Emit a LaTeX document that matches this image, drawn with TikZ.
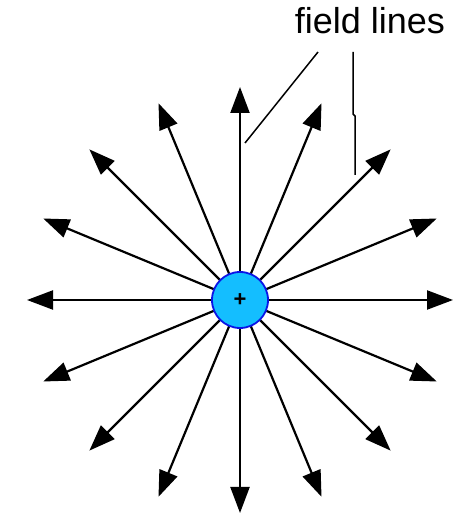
\documentclass[tikz,border=0pt]{standalone}
\usepackage{fontspec}
\setmainfont{Liberation Sans}
\usetikzlibrary{arrows.meta,calc}
\definecolor{chargefill}{RGB}{20,190,255}
\definecolor{chargeedge}{RGB}{10,20,230}
\tikzset{
  fieldline/.style={line width=2.2pt, draw=black, -{Triangle[length=26pt,width=19pt]}},
  pointer/.style={line width=1.5pt, draw=black},
  charge/.style={circle, fill=chargefill, draw=chargeedge, line width=1.8pt, minimum size=56pt, inner sep=0pt}
}
\begin{document}
\begin{tikzpicture}[x=1pt,y=1pt]
\useasboundingbox (0,0) rectangle (457,518);
\coordinate (o) at (240,218);
\foreach \i in {0,...,15}{
  \coordinate (t\i) at ($(o)+({\i*22.5}:213)$);
}
\foreach \i in {0,...,15}{
  \draw[fieldline] (o) -- (t\i);
}
\node[charge] (c) at (o) {};
\node[font=\fontsize{22}{22}\selectfont\bfseries, inner sep=0pt] (plus) at (o) {+};
\node[font=\fontsize{36}{38}\selectfont, inner sep=0pt] (lbl) at (370,497) {field lines};
\coordinate (p1a) at (318,466);
\coordinate (p1b) at (245,375);
\coordinate (p2a) at (353,466);
\coordinate (p2b) at (353,404);
\coordinate (p2c) at (355,402);
\coordinate (p2d) at (355,343);
\draw[pointer] (p1a) -- (p1b);
\draw[pointer] (p2a) -- (p2b) -- (p2c) -- (p2d);
\end{tikzpicture}
\end{document}
